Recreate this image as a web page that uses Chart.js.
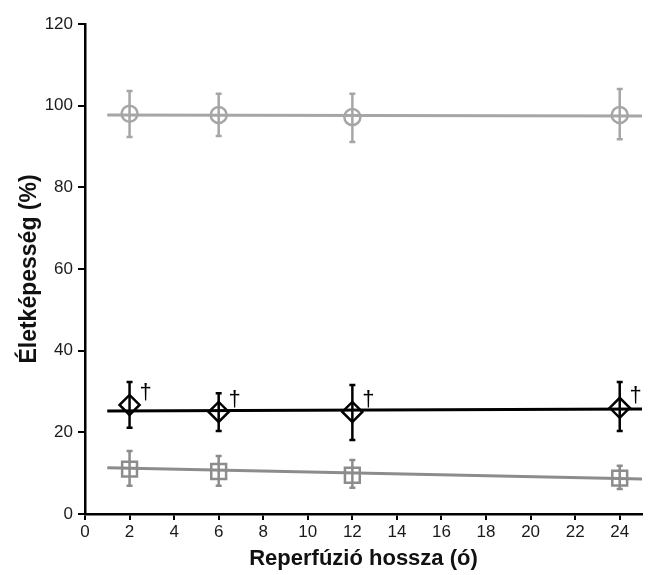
<!DOCTYPE html>
<html>
<head>
<meta charset="utf-8">
<script src="https://cdn.jsdelivr.net/npm/chart.js@4.4.1/dist/chart.umd.min.js"></script>
<style>
  html, body { margin: 0; padding: 0; background: #fff; }
  #wrap { width: 655px; height: 575px; }
</style>
</head>
<body>
<div id="wrap"><canvas id="viabilityChart"></canvas></div>
<script>
// Reperfusion time points (hours)
const hours = [2, 6, 12, 24];

// Circles (control)
const circleMean = [98.0, 97.7, 97.2, 97.7];
const circleLow = [92.3, 92.6, 91.1, 91.8];
const circleHigh = [103.6, 102.9, 102.9, 104.1];

// Diamonds
const diamondMean = [26.7, 25.0, 25.0, 26.0];
const diamondLow = [21.1, 20.3, 18.1, 20.3];
const diamondHigh = [32.3, 29.6, 31.6, 32.3];

// Squares
const squareMean = [11.0, 10.4, 9.5, 8.8];
const squareLow = [6.9, 6.9, 6.4, 6.1];
const squareHigh = [15.4, 14.2, 13.2, 11.8];

// Trend line end points (x from, x to)
const trendX = [1, 25];
const circleTrend = [97.7, 97.5];
const diamondTrend = [25.2, 25.7];
const squareTrend = [11.3, 8.6];

const xTicks = [0, 2, 4, 6, 8, 10, 12, 14, 16, 18, 20, 22, 24];
const yTicks = [0, 20, 40, 60, 80, 100, 120];

const circleColor = '#a6a6a6';
const squareColor = '#8c8c8c';
const diamondColor = '#000000';
const fontFamily = '"Liberation Sans", Arial, sans-serif';

function points(ys) {
    return hours.map((h, i) => ({ x: h, y: ys[i] }));
}
function trend(ys) {
    return trendX.map((x, i) => ({ x: x, y: ys[i] }));
}

// error bars and daggers, drawn through the scales
const errorBars = {
    id: 'errorBars',
    beforeDatasetsDraw(chart) {
        const { ctx, scales: { x, y } } = chart;
        const groups = [
            { lo: circleLow, hi: circleHigh, color: circleColor },
            { lo: diamondLow, hi: diamondHigh, color: diamondColor },
            { lo: squareLow, hi: squareHigh, color: squareColor }
        ];
        ctx.save();
        ctx.lineWidth = 2.5;
        groups.forEach(g => {
            ctx.strokeStyle = g.color;
            hours.forEach((h, i) => {
                const px = x.getPixelForValue(h);
                const top = y.getPixelForValue(g.hi[i]);
                const bot = y.getPixelForValue(g.lo[i]);
                ctx.beginPath();
                ctx.moveTo(px, top);
                ctx.lineTo(px, bot);
                ctx.moveTo(px - 3, top);
                ctx.lineTo(px + 3, top);
                ctx.moveTo(px - 3, bot);
                ctx.lineTo(px + 3, bot);
                ctx.stroke();
            });
        });
        ctx.restore();
    },
    afterDatasetsDraw(chart) {
        const { ctx, scales: { x, y } } = chart;
        ctx.save();
        ctx.fillStyle = '#000';
        ctx.font = '22px ' + fontFamily;
        ctx.textAlign = 'center';
        ctx.textBaseline = 'middle';
        hours.forEach((h, i) => {
            ctx.fillText('\u2020', x.getPixelForValue(h) + 16, y.getPixelForValue(diamondMean[i]) - 12);
        });
        ctx.restore();
    }
};

const ctx = document.getElementById('viabilityChart').getContext('2d');

const viabilityChart = new Chart(ctx, {
    type: 'scatter',
    data: {
        datasets: [
            {
                label: 'circle trend',
                type: 'line',
                data: trend(circleTrend),
                borderColor: circleColor,
                borderWidth: 3,
                pointRadius: 0
            },
            {
                label: 'diamond trend',
                type: 'line',
                data: trend(diamondTrend),
                borderColor: diamondColor,
                borderWidth: 3,
                pointRadius: 0
            },
            {
                label: 'square trend',
                type: 'line',
                data: trend(squareTrend),
                borderColor: squareColor,
                borderWidth: 3,
                pointRadius: 0
            },
            {
                label: 'circles',
                data: points(circleMean),
                pointStyle: 'circle',
                pointRadius: 8,
                pointBorderWidth: 2.5,
                pointBorderColor: circleColor,
                pointBackgroundColor: 'rgba(0,0,0,0)'
            },
            {
                label: 'diamonds',
                data: points(diamondMean),
                pointStyle: 'rectRot',
                pointRadius: 10,
                pointBorderWidth: 2.5,
                pointBorderColor: diamondColor,
                pointBackgroundColor: 'rgba(0,0,0,0)'
            },
            {
                label: 'squares',
                data: points(squareMean),
                pointStyle: 'rect',
                pointRadius: 10.5,
                pointBorderWidth: 2.5,
                pointBorderColor: squareColor,
                pointBackgroundColor: 'rgba(0,0,0,0)'
            }
        ]
    },
    options: {
        responsive: true,
        maintainAspectRatio: false,
        animation: false,
        events: [],
        layout: { padding: { left: 12, right: 10, top: 24, bottom: 0 } },
        plugins: {
            legend: { display: false },
            tooltip: { enabled: false }
        },
        scales: {
            x: {
                type: 'linear',
                min: 0,
                max: 25,
                afterFit(scale) { scale.height = 61; },
                afterBuildTicks(scale) { scale.ticks = xTicks.map(v => ({ value: v })); },
                border: { color: '#000', width: 2.5 },
                grid: { drawOnChartArea: false, color: '#000', lineWidth: 2, tickLength: 6 },
                ticks: {
                    color: '#1a1a1a',
                    padding: 2,
                    font: { family: fontFamily, size: 17 }
                },
                title: {
                    display: true,
                    text: 'Reperfúzió hossza (ó)',
                    color: '#111',
                    font: { family: fontFamily, size: 22, weight: 'bold' },
                    padding: { top: 2, bottom: 3 }
                }
            },
            y: {
                min: 0,
                max: 120,
                afterFit(scale) { scale.width = 73; },
                afterBuildTicks(scale) { scale.ticks = yTicks.map(v => ({ value: v })); },
                border: { color: '#000', width: 2.5 },
                grid: { drawOnChartArea: false, color: '#000', lineWidth: 2, tickLength: 7 },
                ticks: {
                    color: '#1a1a1a',
                    padding: 5,
                    font: { family: fontFamily, size: 17 }
                },
                title: {
                    display: true,
                    text: 'Életképesség (%)',
                    color: '#111',
                    font: { family: fontFamily, size: 23, weight: 'bold' },
                    padding: { top: 4, bottom: 4 }
                }
            }
        }
    },
    plugins: [errorBars]
});
</script>
</body>
</html>
